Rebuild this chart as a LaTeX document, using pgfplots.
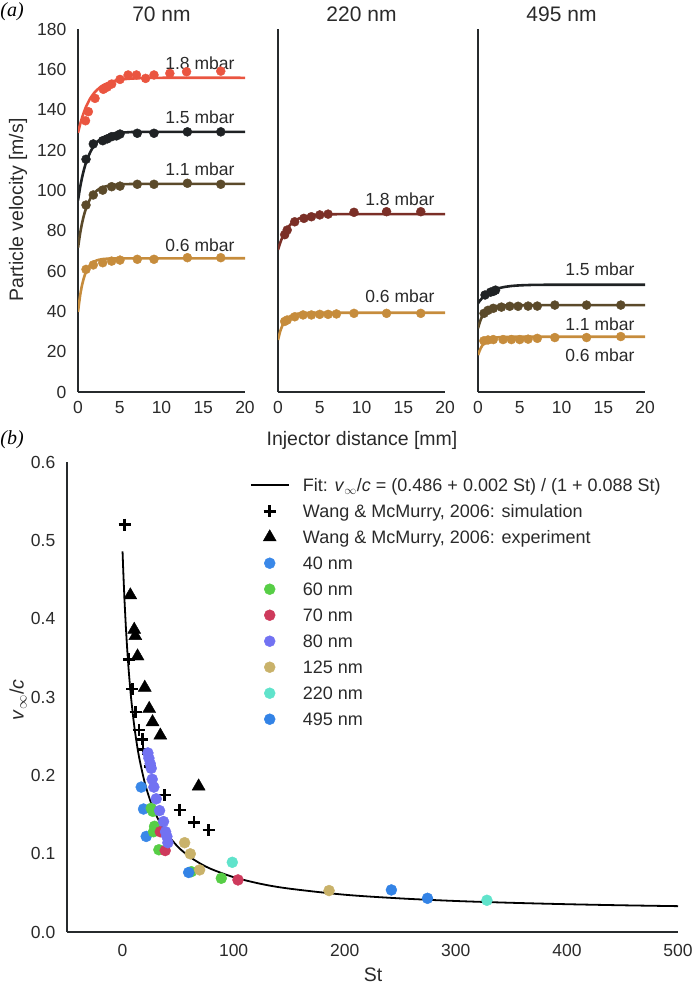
\documentclass[border=0pt]{standalone}
\usepackage{pgfplots}
\pgfplotsset{compat=1.18}
\usepackage{fontspec}
\setmainfont{Liberation Sans}
\newfontfamily\panelfont{Liberation Serif}

\definecolor{axiscol}{HTML}{272B2D}
\definecolor{textcol}{HTML}{2A2A2A}
\definecolor{redA}{HTML}{EA5540}
\definecolor{blkA}{HTML}{1F2224}
\definecolor{brnA}{HTML}{5B4A2A}
\definecolor{gldA}{HTML}{C68C3C}
\definecolor{redB}{HTML}{7B2F27}
\definecolor{cforty}{HTML}{3A88E8}
\definecolor{csixty}{HTML}{57CE46}
\definecolor{cseventy}{HTML}{CE3A5C}
\definecolor{ceighty}{HTML}{7272F2}
\definecolor{conetwofive}{HTML}{C9B26A}
\definecolor{ctwotwenty}{HTML}{60E3CB}
\definecolor{cfournine}{HTML}{3383E6}

\newcommand\fs{\fontsize{17.5}{20}\selectfont}
\newcommand\fl{\fontsize{19.5}{22}\selectfont}

\tikzset{lab/.style={font=\fs, text=textcol}}
\pgfplotsset{
  base/.style={scale only axis, anchor=south west, axis lines=left,
    axis line style={-, line width=2.2pt, draw=axiscol},
    major tick length=0pt, tick style={draw=none},
    tick label style={font=\fs, text=textcol, /pgf/number format/assume math mode=true}},
  vel/.style={base, width=167pt, height=363pt, xmin=0, xmax=20, ymin=0, ymax=180,
    xtick={0,5,10,15,20}, xticklabel style={yshift=-6pt}, yticklabel style={xshift=-8.2pt}},
  fitc/.style={line width=2.6pt, smooth, no marks},
  dots/.style={only marks, mark=*, mark size=4.5pt},
  myleg/.style={legend image code/.code={%
    \pgfpathrectangle{\pgfpoint{0pt}{-7.5pt}}{\pgfpoint{37.6pt}{15pt}}\pgfusepath{use as bounding box}%
    \draw[mark repeat=2,mark phase=2,##1] plot coordinates {(0pt,0pt) (18.8pt,0pt) (37.6pt,0pt)};}},
  bdot/.style={only marks, mark=*, mark size=5.5pt, myleg},
}

\begin{document}
\begin{tikzpicture}
\path[use as bounding box] (0pt,0pt) rectangle (692pt,-984pt);

% ---- (a) 70 nm
\begin{axis}[vel, at={(78pt,-392pt)}, ytick={0,20,...,180}]
\addplot[fitc, redA] coordinates {(0,128.5)(0.25,132.7)(0.5,136.2)(0.75,139.2)(1,141.8)(1.5,145.8)(2,148.6)(2.5,150.6)(3,152.1)(4,153.9)(5,154.8)(6,155.3)(8,155.7)(10,155.8)(20,155.8)};
\addplot[dots, redA] coordinates {(0.9,134.5)(1.24,139.0)(2.04,145.6)(3.03,150.1)(3.5,151.2)(4.03,152.7)(5.03,155.0)(6.0,157.2)(7.0,157.2)(8.1,155.5)(9.1,157.2)(11.0,158.0)(13.0,158.8)(17.1,159.1)};
\addplot[fitc, blkA] coordinates {(0,95)(0.25,101.4)(0.5,106.6)(0.75,110.8)(1,114.2)(1.5,119.2)(2,122.6)(2.5,124.75)(3,126.2)(4,127.8)(5,128.5)(6,128.8)(8,129)(20,129)};
\addplot[dots, blkA] coordinates {(0.96,115.4)(1.83,123.0)(2.96,124.6)(3.5,125.5)(4.03,126.6)(4.6,127.0)(5.03,127.9)(7.1,128.3)(9.1,128.3)(13.1,129.0)(17.1,129.0)};
\addplot[fitc, brnA] coordinates {(0,71.5)(0.25,78.5)(0.5,84.0)(0.75,88.2)(1,91.5)(1.5,96.1)(2,98.9)(2.5,100.6)(3,101.6)(4,102.6)(5,103.0)(6,103.1)(8,103.2)(20,103.2)};
\addplot[dots, brnA] coordinates {(0.96,92.7)(1.83,97.7)(2.96,100.1)(4.03,101.8)(5.03,102.1)(7.1,103.0)(9.1,103.0)(13.1,103.5)(17.1,103.0)};
\addplot[fitc, gldA] coordinates {(0,39.7)(0.25,47.7)(0.5,53.3)(0.75,57.2)(1,59.9)(1.5,63.2)(2,64.8)(2.5,65.56)(3,65.93)(4,66.21)(5,66.28)(20,66.3)};
\addplot[dots, gldA] coordinates {(0.96,60.8)(1.83,63.0)(2.96,64.1)(4.03,64.9)(5.03,65.4)(7.1,65.8)(9.1,65.8)(13.1,66.6)(17.1,66.6)};
\node[lab] at (axis cs:14.6,163) {1.8 mbar};
\node[lab] at (axis cs:14.6,136) {1.5 mbar};
\node[lab] at (axis cs:14.6,110.5) {1.1 mbar};
\node[lab] at (axis cs:14.6,73) {0.6 mbar};
\end{axis}

% ---- (a) 220 nm
\begin{axis}[vel, at={(278pt,-392pt)}, ytick=\empty]
\addplot[fitc, redB] coordinates {(0,70.5)(0.25,73.8)(0.5,76.5)(0.75,78.7)(1,80.5)(1.5,83.1)(2,84.9)(2.5,86.0)(3,86.75)(4,87.56)(5,87.9)(6,88.08)(8,88.18)(20,88.2)};
\addplot[dots, redB] coordinates {(0.8,78)(1.1,80.3)(2.0,84.4)(3.1,86.1)(4.0,86.9)(5.0,87.8)(6.0,88.2)(9.1,89.1)(13.0,89.4)(17.1,89.4)};
\addplot[fitc, gldA] coordinates {(0,25.8)(0.25,29.85)(0.5,32.7)(0.75,34.7)(1,36.06)(1.5,37.72)(2,38.53)(2.5,38.92)(3,39.11)(4,39.25)(5,39.3)(20,39.3)};
\addplot[dots, gldA] coordinates {(0.8,35)(1.1,35.7)(2.0,37.3)(3.0,38.2)(4.0,38.2)(5.0,38.5)(6.0,38.5)(7.0,38.7)(9.1,39.0)(13.0,39.0)(17.1,39.0)};
\node[lab] at (axis cs:14.6,95.5) {1.8 mbar};
\node[lab] at (axis cs:14.6,47.3) {0.6 mbar};
\end{axis}

% ---- (a) 495 nm
\begin{axis}[vel, at={(478pt,-392pt)}, ytick=\empty]
\addplot[fitc, blkA] coordinates {(0,44)(0.25,45.4)(0.5,46.6)(0.75,47.6)(1,48.5)(1.5,49.8)(2,50.8)(2.5,51.46)(3,51.96)(4,52.57)(5,52.87)(6,53.03)(8,53.16)(20,53.2)};
\addplot[dots, blkA] coordinates {(0.84,48.1)(1.5,49.5)(1.83,49.9)(2.1,50.5)};
\addplot[fitc, brnA] coordinates {(0,31.6)(0.25,35.05)(0.5,37.5)(0.75,39.2)(1,40.34)(1.5,41.75)(2,42.44)(2.5,42.78)(3,42.94)(4,43.06)(5,43.1)(20,43.1)};
\addplot[dots, brnA] coordinates {(0.72,39.0)(1.2,40.5)(1.83,41.5)(2.8,42.1)(3.8,42.5)(4.8,42.5)(6.0,42.6)(7.1,42.6)(9.2,43.1)(13.0,43.1)(17.1,43.1)};
\addplot[fitc, gldA] coordinates {(0,18.3)(0.25,21.0)(0.5,22.94)(0.75,24.28)(1,25.22)(1.5,26.34)(2,26.88)(2.5,27.15)(3,27.27)(4,27.37)(5,27.4)(20,27.4)};
\addplot[dots, gldA] coordinates {(0.7,25.4)(1.2,25.8)(1.83,26.0)(3.0,26.0)(4.0,26.0)(5.0,26.0)(6.0,26.2)(7.1,26.6)(9.2,27.0)(13.0,27.0)(17.1,27.5)};
\node[lab] at (axis cs:14.6,60.8) {1.5 mbar};
\node[lab] at (axis cs:14.6,33.7) {1.1 mbar};
\node[lab] at (axis cs:14.6,18.3) {0.6 mbar};
\end{axis}

\node[font=\fontsize{21}{24}\selectfont, text=textcol] at (161.5pt,-14pt) {70 nm};
\node[font=\fontsize{21}{24}\selectfont, text=textcol] at (361.5pt,-14pt) {220 nm};
\node[font=\fontsize{21}{24}\selectfont, text=textcol] at (561.5pt,-14pt) {495 nm};
\node[font=\fl, text=textcol, rotate=90] at (18pt,-210pt) {Particle velocity [m/s]};
\node[font=\fl, text=textcol] at (362pt,-440pt) {Injector distance [mm]};
\node[font=\panelfont\itshape\fontsize{20}{22}\selectfont] at (12pt,-12pt) {(\textit{a})};
\node[font=\panelfont\itshape\fontsize{20}{22}\selectfont] at (12pt,-440pt) {(\textit{b})};

% ---- (b)
\begin{axis}[base, myleg, at={(67pt,-932pt)}, width=611pt, height=470pt,
  xmin=-50, xmax=500, ymin=0, ymax=0.6,
  xtick={0,100,200,300,400,500}, ytick={0,0.1,0.2,0.3,0.4,0.5,0.6},
  xticklabel style={yshift=-9pt},
  yticklabel style={xshift=-8.2pt, /pgf/number format/.cd, fixed, fixed zerofill, precision=1},
  legend cell align=left,
  legend style={at={(0.3007,0.967)}, anchor=north west, draw=none, fill=none, inner sep=0pt,
    font=\fontsize{18}{20}\selectfont, text=textcol, row sep=11pt, column sep=14.4pt,
    nodes={inner sep=0pt, text height=13pt, text depth=0pt}}]
\addplot[black, line width=1.8pt, smooth, no marks] coordinates {(0,0.486)(0.5,0.4665)(1,0.4485)(1.5,0.432)(2,0.4167)(3,0.3892)(4,0.3654)(5,0.3444)(6,0.3259)(7,0.3094)(8,0.2946)(10,0.2691)(12,0.2481)(15,0.2224)(20,0.1906)(25,0.1675)(30,0.1500)(35,0.1363)(40,0.1252)(50,0.1085)(60,0.0965)(70,0.0874)(80,0.0803)(100,0.0700)(125,0.0613)(150,0.0554)(200,0.0476)(250,0.0429)(300,0.0396)(350,0.0373)(400,0.0355)(450,0.0341)(500,0.0330)};
\addlegendentry{Fit: \textit{v}\textsubscript{$\infty$}/\textit{c} = (0.486 + 0.002 St) / (1 + 0.088 St)}
\addplot[only marks, myleg, black, mark=+, mark size=6pt, line width=2.6pt] coordinates {(1.8,0.520)(5.7,0.348)(8.7,0.310)(11.7,0.281)(14.7,0.258)(17.7,0.246)(18.5,0.233)(24.3,0.211)(37.8,0.175)(51.4,0.156)(64.3,0.140)(77.5,0.130)};
\addlegendentry{Wang \& McMurry, 2006: simulation}
\addplot[only marks, myleg, black, mark=triangle*, mark size=7.5pt] coordinates {(7,0.430)(10.5,0.386)(11.5,0.378)(13.5,0.352)(20,0.312)(24,0.285)(27,0.268)(34,0.251)(68.5,0.186)};
\addlegendentry{Wang \& McMurry, 2006: experiment}
\addplot[bdot, cforty] coordinates {(16.8,0.185)(18.9,0.157)(21.3,0.122)};
\addlegendentry{40 nm}
\addplot[bdot, csixty] coordinates {(25.8,0.158)(27.3,0.154)(28.8,0.135)(27.9,0.128)(32.7,0.105)(61.9,0.077)(88.9,0.0686)};
\addlegendentry{60 nm}
\addplot[bdot, cseventy] coordinates {(34,0.128)(38.4,0.104)(103.9,0.0665)};
\addlegendentry{70 nm}
\addplot[bdot, ceighty] coordinates {(22.8,0.2286)(23.7,0.222)(24.9,0.215)(25.8,0.209)(26.7,0.195)(28.2,0.185)(30.3,0.170)(33.3,0.155)(36.9,0.141)(38.7,0.128)(39.9,0.122)(40.8,0.114)};
\addlegendentry{80 nm}
\addplot[bdot, conetwofive] coordinates {(55.9,0.114)(61,0.0998)(69.4,0.0793)(185.9,0.0529)};
\addlegendentry{125 nm}
\addplot[bdot, ctwotwenty] coordinates {(98.8,0.089)(328,0.0405)};
\addlegendentry{220 nm}
\addplot[bdot, cfournine] coordinates {(59.5,0.076)(242,0.0537)(274.5,0.043)};
\addlegendentry{495 nm}
\end{axis}

\node[font=\fl, text=textcol, anchor=base] at (373pt,-981pt) {St};
\node[font=\fl, text=textcol, rotate=90] at (18pt,-700pt) {\textit{v}\textsubscript{$\infty$}/\textit{c}};
\end{tikzpicture}
\end{document}
